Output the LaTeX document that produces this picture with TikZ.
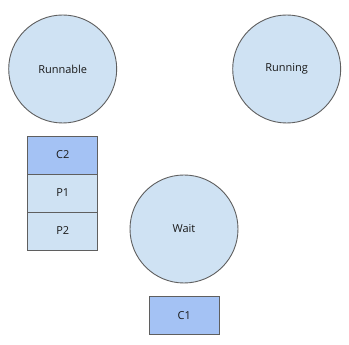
\documentclass[tikz,border=0pt]{standalone}
\usepackage{fontspec}
\setmainfont{Open Sans}
\usetikzlibrary{positioning}
\definecolor{statefill}{HTML}{CFE2F3}
\definecolor{taskfill}{HTML}{A4C2F4}
\definecolor{edge}{HTML}{5F5F5F}
\begin{document}
\begin{tikzpicture}[
  x=1pt,y=1pt,
  font=\fontsize{11}{13}\selectfont,
  every node/.append style={text=black!90},
  state/.style={circle, draw=edge, fill=statefill, line width=0.9pt, minimum size=108pt, inner sep=0pt},
  slot/.style={rectangle, draw=edge, line width=0.9pt, minimum width=70pt, minimum height=38pt, inner sep=0pt, outer sep=0pt},
  task/.style={slot, fill=taskfill},
  proc/.style={slot, fill=statefill},
]
\fill[white] (0,0) rectangle (349,345);
\useasboundingbox (0,0) rectangle (349,345);
% --- states ---
\node[state] (runnable) at (62.7,276) {Runnable};
\node[state] (running) at (286.7,276) {Running};
\node[state] (wait) at (184,116) {Wait};
% --- run queue under Runnable ---
\node[task] (c2) at (62.8,190) {C2};
\node[proc, below=0pt of c2] (p1) {P1};
\node[proc, below=0pt of p1] (p2) {P2};
% --- blocked task under Wait ---
\node[task] (c1) at (184.3,29.3) {C1};
\end{tikzpicture}
\end{document}
